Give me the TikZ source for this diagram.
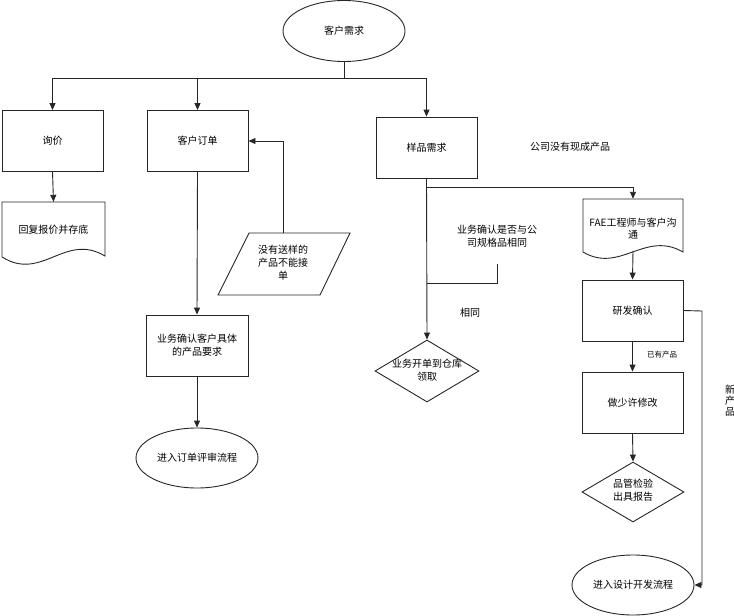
\documentclass[tikz,border=0pt]{standalone}
\usepackage{fontspec}
\setmainfont{Noto Sans CJK SC}
\usetikzlibrary{arrows.meta,shapes.geometric}
\begin{document}
\begin{tikzpicture}[x=1pt,y=-1pt,
  every node/.style={font=\fontsize{10}{13}\selectfont, align=center, inner sep=1pt},
  ln/.style={draw=black!85, line width=0.9pt},
  arr/.style={ln, -{Triangle[length=7pt,width=6pt]}},
  box/.style={draw=black!85, line width=0.9pt, rectangle, minimum width=101pt, minimum height=61pt},
  oval/.style={draw=black!85, line width=0.9pt, ellipse, minimum width=122pt, minimum height=61pt},
  docbox/.style={rectangle, minimum width=103pt, minimum height=62pt},
  small/.style={font=\fontsize{7.5}{9}\selectfont}
]
\useasboundingbox (0,0) rectangle (734,616);

% nodes
\node[oval] (xuqiu) at (344,31) {客户需求};
\node[box] (xunjia) at (52.5,141) {询价};
\node[box] (dingdan) at (197.5,141) {客户订单};
\node[box] (yangpin) at (426.5,147.5) {样品需求};
\node[box, minimum width=102pt] (queren) at (197,345.5) {业务确认客户具体\\的产品要求};
\node[oval, minimum height=60pt] (pingshen) at (197,458) {进入订单评审流程};
\node[box] (yanfa) at (632.5,310.5) {研发确认};
\node[box] (xiugai) at (632.5,402.5) {做少许修改};
\node[oval, minimum height=60pt] (kaifa) at (633,585) {进入设计开发流程};
\node[diamond, draw=black!85, line width=0.9pt, minimum width=104pt, minimum height=62pt, inner sep=0pt] (kaidan) at (427,371) {};
\node at (427,370) {业务开单到仓库\\领取};
\node[diamond, draw=black!85, line width=0.9pt, minimum width=102pt, minimum height=60pt, inner sep=0pt] (pinguan) at (633,492) {};
\node at (633,490) {品管检验\\出具报告};

% document shapes
\node[docbox] (huifu) at (53.5,233) {\raisebox{8pt}{回复报价并存底}};
\draw[ln] (2,257) -- (2,202) -- (105,202) -- (105,256)
  .. controls (65,232) and (42,282) .. (2,257);
\node[docbox, minimum width=100pt, minimum height=61pt] (fae) at (633,229.5) {\raisebox{7.5pt}{\begin{tabular}{@{}c@{}}FAE工程师与客户沟\\[-1pt]通\end{tabular}}};
\draw[ln] (583,252) -- (583,199) -- (683,199) -- (683,252)
  .. controls (645,230) and (620,274) .. (583,252);
\coordinate (faebot) at (633,251);

% parallelogram
\node (para) at (283,263) {没有送样的\\产品不能接\\单};
\draw[ln] (249,233) -- (350,233) -- (320,295) -- (218,295) -- cycle;
\coordinate (paratop) at (283,233);

% labels
\node at (570,147) {公司没有现成产品};
\node at (497,236) {业务确认是否与公\\司规格品相同};
\node at (470,313) {相同};
\node[small] (yiyou) at (662,355) {已有产品};
\node[font=\fontsize{10}{11}\selectfont] (xin) at (730,401) {新\\产\\品};

% connectors
\draw[ln] (xuqiu.south) -- ++(0,16) coordinate (j);
\draw[ln] (xunjia.north |- j) -- (yangpin.north |- j);
\draw[arr] (xunjia.north |- j) -- (xunjia.north);
\draw[arr] (dingdan.north |- j) -- (dingdan.north);
\draw[arr] (yangpin.north |- j) -- (yangpin.north);

\draw[arr] (xunjia.south) -- (huifu.north);
\draw[arr] (dingdan.south) -- (queren.north);
\draw[arr] (queren.south) -- (pingshen.north);
\draw[arr] (paratop) |- (dingdan.east);

\draw[arr] (yangpin.south) -- (kaidan.north);
\draw[arr] (yangpin.south) ++(0,9) -| (fae.north);
\coordinate (cb) at (427,283);
\draw[ln] (cb) -- (497,283) -- (497,264);

\draw[arr] (faebot) -- (yanfa.north);
\draw[arr] (yanfa.south) -- (xiugai.north);
\draw[arr] (xiugai.south) -- (pinguan.north);
\draw[arr] (yanfa.east) -- (702,311) |- (kaifa.east);
\end{tikzpicture}
\end{document}
